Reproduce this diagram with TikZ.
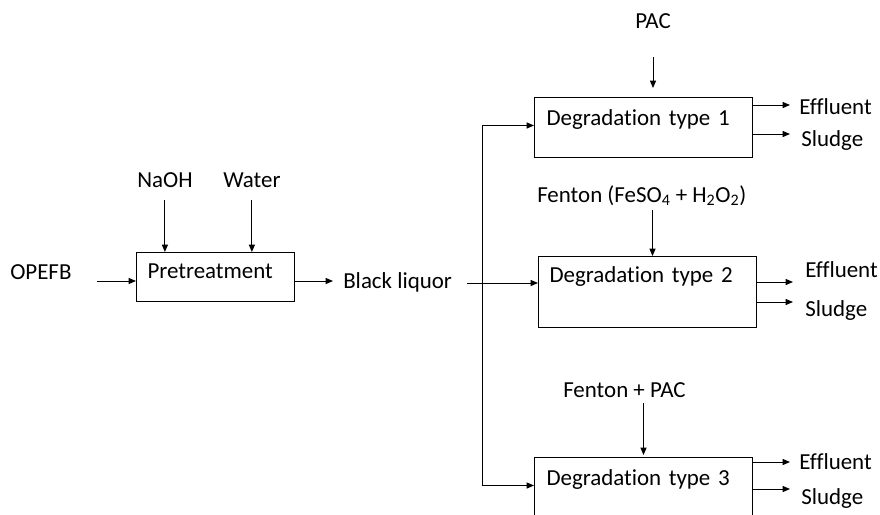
\documentclass[tikz,border=0pt]{standalone}
\usepackage{fontspec}
\setmainfont{Carlito}[Ligatures={NoCommon,NoContextual,NoRare}]
\usetikzlibrary{arrows.meta}

\begin{document}
\begin{tikzpicture}[x=0.75pt, y=-0.75pt, font=\fontsize{17.2pt}{20pt}\selectfont]
    \tikzset{
      unit/.style={rectangle, draw, line width=0.75pt, anchor=north west,
                   inner xsep=9pt, inner ysep=0pt, align=left,
                   text width=145.5pt, text height=21pt, text depth=24pt},
      stream/.style={inner sep=0pt},
      flow/.style={-{Triangle[length=5.5pt, width=4.5pt]}, line width=0.75pt}
    }
    \useasboundingbox (0,0) rectangle (880,514);

    \node[unit, inner xsep=8.25pt, text width=102pt, text height=19.5pt,
          text depth=17.25pt] (pre) at (136,252) {Pretreatment};
    \node[unit] (deg1) at (534,97) {Degradation type 1};
    \node[unit, inner xsep=8.25pt, text width=147pt, text height=19.5pt,
          text depth=33.75pt] (deg2) at (538,256) {Degradation type 2};
    \node[unit] (deg3) at (534,457) {Degradation type 3};

    % Entradas
    \node[stream, anchor=base west] (opefb) at (10,279) {OPEFB};
    \node[stream, anchor=base west] (naoh) at (137,187) {NaOH};
    \node[stream, anchor=base west] (water) at (223,187) {Water};
    \node[stream, anchor=base west] (liquor) at (343,288) {Black liquor};
    \node[stream, anchor=base] (pac) at (653,28) {PAC};
    \node[stream, anchor=base west] (fenton) at (537,202)
      {Fenton (FeSO\textsubscript{4} + H\textsubscript{2}O\textsubscript{2})};
    \node[stream, anchor=base west] (fentonpac) at (563,397) {Fenton + PAC};

    % Salidas
    \node[stream, anchor=base west] (eff1) at (799,114) {Effluent};
    \node[stream, anchor=base west] (slu1) at (801,146) {Sludge};
    \node[stream, anchor=base west] (eff2) at (805,277) {Effluent};
    \node[stream, anchor=base west] (slu2) at (805,316) {Sludge};
    \node[stream, anchor=base west] (eff3) at (799,469) {Effluent};
    \node[stream, anchor=base west] (slu3) at (801,504) {Sludge};

    \coordinate (split) at (482,283);

    % Flechas
    \draw[flow, shorten <=18.75pt] ([yshift=-1.5pt]opefb.base east)
      -- ([yshift=-1.5pt]opefb.base east -| pre.west);
    \draw[flow, shorten <=9.75pt] (naoh.base) -- (naoh.base |- pre.north);
    \draw[flow, shorten <=9.75pt] (water.base) -- (water.base |- pre.north);
    \draw[flow, shorten >=7.5pt] ([yshift=5.25pt]liquor.base west -| pre.east)
      -- ([yshift=5.25pt]liquor.base west);
    \draw[flow, shorten <=11.25pt] ([yshift=3.75pt]liquor.base east)
      -- ([yshift=3.75pt]liquor.base east -| deg2.west);
    \draw[flow] (split) |- (deg1.base west);
    \draw[flow] (split) |- (deg3.base west);

    \draw[flow, shorten <=21.75pt, shorten >=6.75pt] (pac.base) -- (pac.base |- deg1.north);
    \draw[flow, shorten <=6pt] ([xshift=3.75pt]deg2.north |- fenton.base)
      -- ([xshift=3.75pt]deg2.north);
    \draw[flow, shorten <=4.5pt, shorten >=1.5pt] (deg3.north |- fentonpac.base)
      -- (deg3.north);

    \draw[flow, shorten >=6.75pt] ([yshift=6.75pt]eff1.base west -| deg1.east)
      -- ([yshift=6.75pt]eff1.base west);
    \draw[flow, shorten >=8.25pt] ([yshift=9pt]slu1.base west -| deg1.east)
      -- ([yshift=9pt]slu1.base west);
    \draw[flow, shorten >=9pt] ([yshift=-3.75pt]eff2.base west -| deg2.east)
      -- ([yshift=-3.75pt]eff2.base west);
    \draw[flow, shorten >=9pt] ([yshift=10.5pt]slu2.base west -| deg2.east)
      -- ([yshift=10.5pt]slu2.base west);
    \draw[flow, shorten >=6.75pt] ([yshift=5.25pt]eff3.base west -| deg3.east)
      -- ([yshift=5.25pt]eff3.base west);
    \draw[flow, shorten >=8.25pt] ([yshift=11.25pt]slu3.base west -| deg3.east)
      -- ([yshift=11.25pt]slu3.base west);
  \end{tikzpicture}
\end{document}
